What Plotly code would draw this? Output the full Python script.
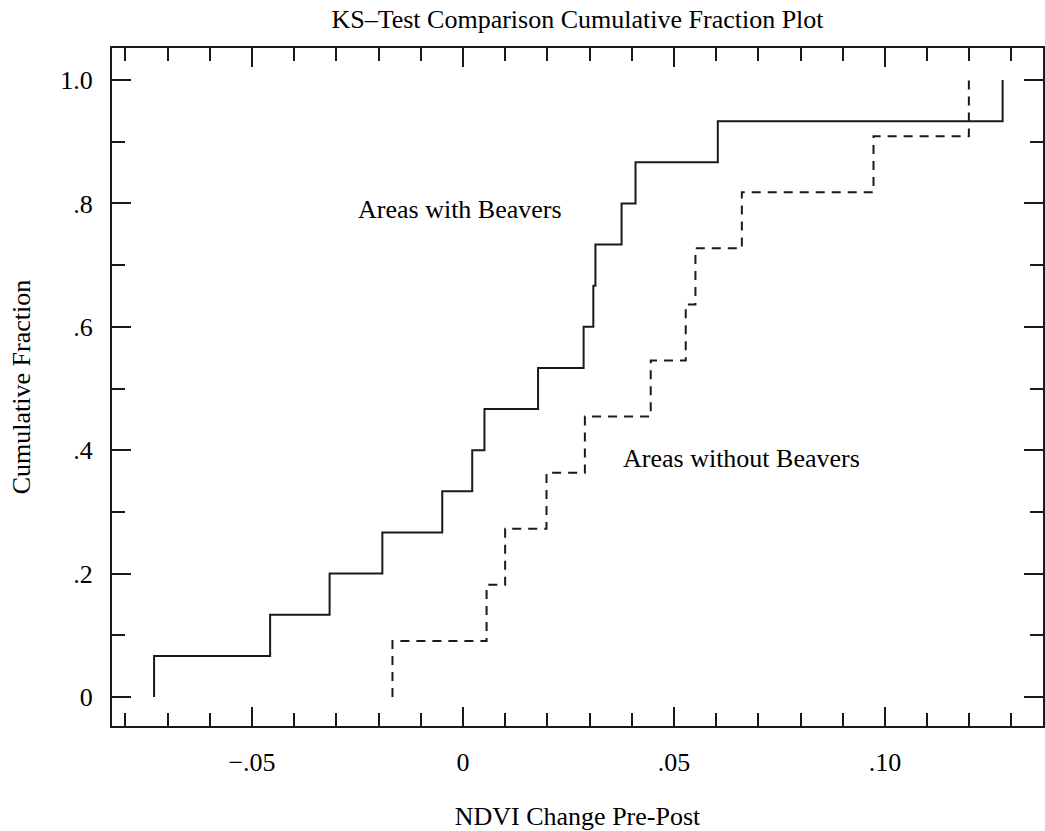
import numpy as np
import plotly.graph_objects as go

# NDVI change values (sorted)
with_beavers = [-0.0732, -0.0457, -0.0316, -0.0191, -0.0049, 0.0022, 0.0051,
                0.0178, 0.0286, 0.0309, 0.0314, 0.0376, 0.0409, 0.0604, 0.1279]
without_beavers = [-0.0167, 0.0056, 0.0100, 0.0198, 0.0289, 0.0445, 0.0528,
                   0.0551, 0.0661, 0.0973, 0.1199]

x_tickvals = [-0.05, 0, 0.05, 0.10]
x_ticktext = ["\u2212.05", "0", ".05", ".10"]
y_tickvals = [0, 0.2, 0.4, 0.6, 0.8, 1.0]
y_ticktext = ["0", ".2", ".4", ".6", ".8", "1.0"]

labels = ["Areas with Beavers", "Areas without Beavers"]
label_pos = [(-0.0008, 0.791), (0.0661, 0.387)]


def ecdf_path(vals):
    v = np.sort(np.asarray(vals, dtype=float))
    n = len(v)
    xs = np.concatenate([[v[0]], v])
    ys = np.concatenate([[0.0], np.arange(1, n + 1) / n])
    return xs, ys


FONT = "Liberation Serif, Times New Roman, serif"
INK = "#1a1a1a"

fig = go.Figure()
xs, ys = ecdf_path(with_beavers)
fig.add_trace(go.Scatter(x=xs, y=ys, mode="lines", line_shape="hv",
                         line=dict(color=INK, width=2), showlegend=False,
                         hoverinfo="skip"))
xs, ys = ecdf_path(without_beavers)
fig.add_trace(go.Scatter(x=xs, y=ys, mode="lines", line_shape="hv",
                         line=dict(color=INK, width=2, dash="9px,7px"),
                         showlegend=False, hoverinfo="skip"))

for txt, (ax, ay) in zip(labels, label_pos):
    fig.add_annotation(x=ax, y=ay, text=txt, showarrow=False,
                       font=dict(family=FONT, size=26, color="#000"),
                       xanchor="center", yanchor="middle")

axis_common = dict(showgrid=False, zeroline=False, showline=True,
                   linecolor=INK, linewidth=2, mirror="ticks",
                   ticks="inside", ticklen=19, tickwidth=2, tickcolor=INK,
                   tickfont=dict(family=FONT, size=26, color="#000"),
                   ticklabelstandoff=12)

fig.update_layout(
    width=1045, height=831,
    margin=dict(l=112, r=0, t=48, b=98, pad=0),
    paper_bgcolor="white", plot_bgcolor="white",
    title=dict(text="KS\u2013Test Comparison Cumulative Fraction Plot",
               x=0.5, xref="paper", xanchor="center",
               y=1 - 19 / 831, yref="container", yanchor="middle",
               font=dict(family=FONT, size=26, color="#000")),
    xaxis=dict(range=[-0.08317, 0.13747], tickmode="array",
               tickvals=x_tickvals, ticktext=x_ticktext,
               minor=dict(tickmode="linear", tick0=0, dtick=0.01,
                          ticks="inside", ticklen=13, tickwidth=2,
                          tickcolor=INK),
               title=dict(text="NDVI Change Pre-Post", standoff=36,
                          font=dict(family=FONT, size=26, color="#000")),
               **axis_common),
    yaxis=dict(range=[-0.047, 1.052], tickmode="array",
               tickvals=y_tickvals, ticktext=y_ticktext,
               minor=dict(tickmode="linear", tick0=0, dtick=0.1,
                          ticks="inside", ticklen=13, tickwidth=2,
                          tickcolor=INK),
               title=dict(text="Cumulative Fraction", standoff=22,
                          font=dict(family=FONT, size=26, color="#000")),
               **axis_common),
)

fig.write_html("out.html")
